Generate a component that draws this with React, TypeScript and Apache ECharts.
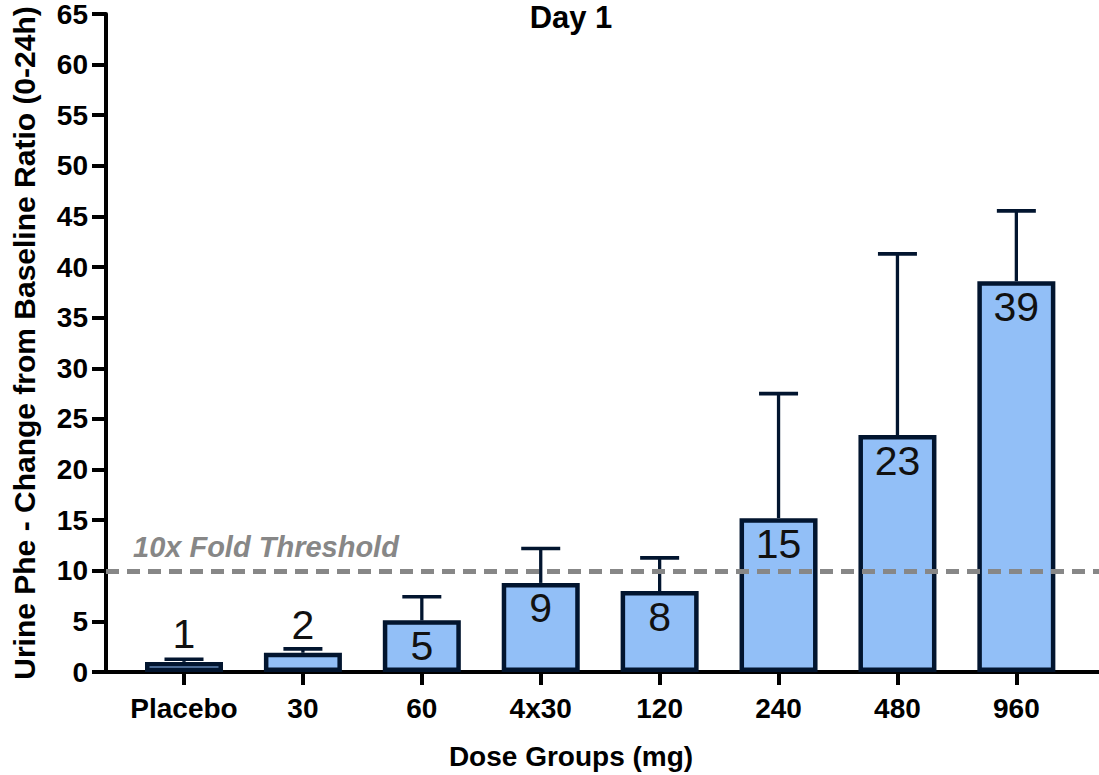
import React, { useEffect, useRef } from "react";
import * as echarts from "echarts";

// Dose groups and mean urine Phe change-from-baseline ratios (0-24h), Day 1
const categories = ["Placebo", "30", "60", "4x30", "120", "240", "480", "960"];
const meanRatio = [1.0, 1.9, 5.1, 8.8, 8.0, 15.2, 23.4, 38.6];
const upperError = [1.26, 2.28, 7.43, 12.2, 11.27, 27.5, 41.3, 45.55];
// groups whose value label sits above the bar instead of inside it
const labelAbove = ["Placebo", "30"];
const threshold = 10;
const thresholdLabel = "10x Fold Threshold";

const FONT = "'Liberation Sans', Arial, Helvetica, sans-serif";
const INK = "#000000";
const BAR_FILL = "#92BFF7";
const BAR_EDGE = "#02152F";
const DASH = "#878787";

export default function App() {
  const ref = useRef<HTMLDivElement>(null);

  useEffect(() => {
    if (!ref.current) return;
    const chart = echarts.init(ref.current, undefined, { renderer: "svg" });
    const idx = categories.map((_, i) => i);

    const option: any = {
      animation: false,
      backgroundColor: "#ffffff",
      title: {
        text: "Day 1",
        left: 571,
        top: 2,
        padding: 0,
        textAlign: "center",
        textStyle: { fontFamily: FONT, fontSize: 31, fontWeight: "bold", color: INK },
      },
      grid: { left: 106, right: 0, top: 14, bottom: 100.5 },
      xAxis: {
        type: "value",
        min: -0.656,
        max: 7.695,
        name: "Dose Groups (mg)",
        nameLocation: "middle",
        nameGap: 70,
        nameTextStyle: {
          fontFamily: FONT,
          fontSize: 28,
          fontWeight: "bold",
          color: INK,
          padding: [0, 63, 0, 0],
        },
        splitLine: { show: false },
        axisLine: { show: true, onZero: false, lineStyle: { color: INK, width: 4 } },
        axisTick: { show: true, customValues: idx, length: 13, lineStyle: { color: INK, width: 4 } },
        axisLabel: {
          customValues: idx,
          margin: 22,
          fontFamily: FONT,
          fontSize: 28,
          fontWeight: "bold",
          color: INK,
          formatter: (v: number) => categories[Math.round(v)] ?? "",
        },
      },
      yAxis: {
        type: "value",
        min: 0,
        max: 65,
        interval: 5,
        name: "Urine Phe - Change from Baseline Ratio (0-24h)",
        nameLocation: "middle",
        nameGap: 67,
        nameRotate: 90,
        nameTextStyle: { fontFamily: FONT, fontSize: 30, fontWeight: "bold", color: INK },
        splitLine: { show: false },
        axisLine: { show: true, onZero: false, lineStyle: { color: INK, width: 4 } },
        axisTick: { show: true, length: 14, lineStyle: { color: INK, width: 4 } },
        axisLabel: { margin: 18, fontFamily: FONT, fontSize: 28, fontWeight: "bold", color: INK },
      },
      series: [
        {
          type: "bar",
          name: "Mean ratio",
          barWidth: 78,
          z: 2,
          itemStyle: { color: BAR_FILL, borderColor: BAR_EDGE, borderWidth: 4.5 },
          label: {
            show: true,
            position: "insideTop",
            distance: 5,
            fontFamily: FONT,
            fontSize: 41,
            color: "#111111",
            formatter: (p: any) => String(Math.round(p.value[1])),
          },
          data: meanRatio.map((v, i) =>
            labelAbove.includes(categories[i])
              ? { value: [i, v], label: { position: "top", distance: 7 } }
              : { value: [i, v] }
          ),
          markLine: {
            silent: true,
            symbol: ["none", "none"],
            label: { show: false },
            lineStyle: { color: DASH, width: 5, type: [13, 8] },
            data: [{ yAxis: threshold }],
          },
        },
        {
          type: "custom",
          name: "Error",
          z: 3,
          data: meanRatio.map((v, i) => [i, v, upperError[i]]),
          encode: { x: 0, y: 2 },
          renderItem: (_params: any, api: any) => {
            const base = api.coord([api.value(0), api.value(1)]);
            const top = api.coord([api.value(0), api.value(2)]);
            const half = 19.5;
            return {
              type: "group",
              children: [
                {
                  type: "line",
                  shape: { x1: base[0], y1: base[1], x2: top[0], y2: top[1] },
                  style: { stroke: BAR_EDGE, lineWidth: 3.3 },
                },
                {
                  type: "line",
                  shape: { x1: top[0] - half, y1: top[1], x2: top[0] + half, y2: top[1] },
                  style: { stroke: BAR_EDGE, lineWidth: 3.6 },
                },
              ],
            };
          },
        },
      ],
    };

    chart.setOption(option);

    // threshold caption, placed just above the dashed reference line
    const pt = chart.convertToPixel({ gridIndex: 0 }, [0, threshold]) as number[];
    chart.setOption({
      graphic: [
        {
          type: "text",
          x: 133,
          y: pt[1] - 24,
          silent: true,
          style: {
            text: thresholdLabel,
            fill: DASH,
            fontFamily: FONT,
            fontSize: 29,
            fontWeight: "bold",
            fontStyle: "italic",
            align: "left",
            verticalAlign: "middle",
          },
        },
      ],
    });

    return () => chart.dispose();
  }, []);

  return (
    <div
      ref={ref}
      style={{ position: "fixed", left: 0, top: 0, width: 1099, height: 775, background: "#fff" }}
    />
  );
}
